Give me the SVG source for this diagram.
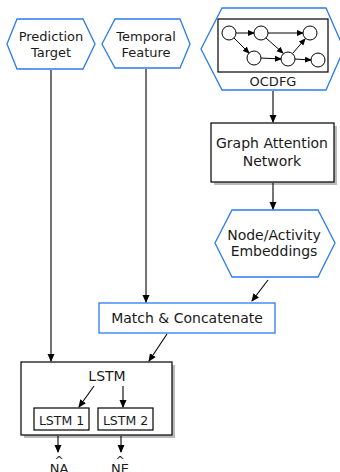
<svg xmlns="http://www.w3.org/2000/svg" width="340" height="472" viewBox="0 0 340 472">
<defs>
<marker id="ah" markerWidth="8" markerHeight="8" refX="7" refY="4" orient="auto" markerUnits="userSpaceOnUse"><path d="M0,0.5 L8,4 L0,7.5 z" fill="#000"/></marker>
<marker id="ahs" markerWidth="7" markerHeight="7" refX="6" refY="3.5" orient="auto" markerUnits="userSpaceOnUse"><path d="M0,0.5 L7,3.5 L0,6.5 z" fill="#000"/></marker>
</defs>
<style>
text{font-family:"DejaVu Sans",sans-serif;font-size:14px;fill:#1a1a1a;text-anchor:middle}
.t13{font-size:13px}
.hex{fill:#fff;stroke:#2b7bf0;stroke-width:1.3}
.box{fill:#fff;stroke:#000;stroke-width:1.2}
.bbox{fill:#fff;stroke:#2b7bf0;stroke-width:1.3}
.sh{fill:#bbb}
.c{stroke:#000;stroke-width:1.1;fill:none;marker-end:url(#ah)}
.g{stroke:#000;stroke-width:1;fill:none;marker-end:url(#ahs)}
.n{fill:#fff;stroke:#000;stroke-width:1}
.sm{font-size:12.5px}
</style>
<rect width="340" height="472" fill="#fff"/>
<g id="prediction-target">
<polygon class="hex" points="7,44 17,19 83,19 95,44 83,69 17,69"/>
<text class="t13" x="51" y="41">Prediction</text>
<text class="t13" x="51" y="57">Target</text>
</g>
<g id="temporal-feature">
<polygon class="hex" points="102,44 115,19 180,19 190,44 180,68 115,68"/>
<text class="t13" x="146" y="41">Temporal</text>
<text class="t13" x="146" y="57">Feature</text>
</g>
<g id="ocdfg">
<polygon class="hex" points="201,49 222,8 326,8 344,49 326,90 222,90"/>
<rect x="218" y="19" width="110" height="53" fill="#fff" stroke="#000" stroke-width="1.2"/>
<g>
<line class="g" x1="236" y1="33" x2="254" y2="33"/>
<line class="g" x1="268" y1="33" x2="303" y2="33"/>
<line class="g" x1="234" y1="38" x2="249" y2="53"/>
<line class="g" x1="266" y1="38" x2="283" y2="53"/>
<line class="g" x1="261" y1="58" x2="281" y2="59"/>
<line class="g" x1="293" y1="53" x2="305" y2="39"/>
<line class="g" x1="295" y1="59" x2="311" y2="60"/>
<circle class="n" cx="229" cy="33" r="7"/>
<circle class="n" cx="261" cy="33" r="7"/>
<circle class="n" cx="310" cy="33" r="7"/>
<circle class="n" cx="254" cy="58" r="7"/>
<circle class="n" cx="288" cy="59" r="7"/>
<circle class="n" cx="318" cy="60" r="7"/>
</g>
<text class="t13" x="273" y="86">OCDFG</text>
</g>
<g id="gat">
<rect class="sh" x="214" y="126" width="123" height="59"/>
<rect class="box" x="211" y="123" width="123" height="59"/>
<text x="272" y="148">Graph Attention</text>
<text x="272" y="166">Network</text>
</g>
<g id="embeddings">
<polygon class="hex" points="215,243 232,210 318,210 335,243 318,277 232,277"/>
<text x="274" y="240">Node/Activity</text>
<text x="274" y="256">Embeddings</text>
</g>
<g id="match">
<rect class="bbox" x="99" y="303" width="176" height="30"/>
<text x="187" y="323">Match &amp; Concatenate</text>
</g>
<g id="lstm">
<rect class="sh" x="24" y="365" width="151" height="73"/>
<rect class="box" x="21" y="362" width="151" height="73"/>
<text x="107" y="381">LSTM</text>
<rect class="box" x="34" y="408" width="55" height="22" stroke-width="1"/>
<text class="sm" x="61.5" y="425">LSTM 1</text>
<rect class="box" x="98" y="408" width="55" height="22" stroke-width="1"/>
<text class="sm" x="125.5" y="425">LSTM 2</text>
<line class="c" x1="94" y1="386" x2="79" y2="407"/>
<line class="c" x1="123" y1="386" x2="123" y2="407"/>
</g>
<g id="outputs">
<text class="t13" x="59" y="473"><tspan x="59" y="464" font-size="11">^</tspan><tspan x="59" y="473">NA</tspan></text>
<text class="t13" x="120" y="473"><tspan x="120" y="464" font-size="11">^</tspan><tspan x="120" y="473">NE</tspan></text>
</g>
<g id="connectors">
<line class="c" x1="51" y1="70" x2="51" y2="361"/>
<line class="c" x1="146" y1="69" x2="146" y2="302"/>
<line class="c" x1="273" y1="91" x2="273" y2="122"/>
<line class="c" x1="273" y1="183" x2="273" y2="209"/>
<line class="c" x1="268" y1="280" x2="252" y2="301"/>
<line class="c" x1="167" y1="334" x2="149" y2="361"/>
<line class="c" x1="58" y1="436" x2="58" y2="452"/>
<line class="c" x1="121" y1="436" x2="121" y2="452"/>
</g>
</svg>
